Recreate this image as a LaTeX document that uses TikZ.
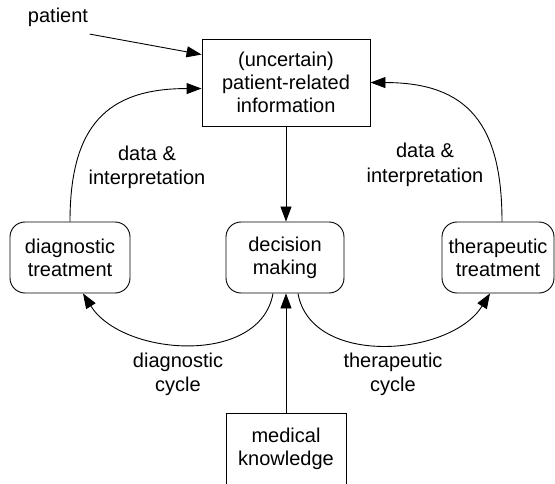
\documentclass[tikz,border=0pt]{standalone}
\usepackage{fontspec}
\setmainfont{Liberation Sans}
\usetikzlibrary{arrows.meta}

\begin{document}
\begin{tikzpicture}[
x=1pt,y=-1pt,line width=0.9pt,
every node/.style={font=\fontsize{20}{23}\selectfont,align=center},
box/.style={draw,minimum width=120pt,minimum height=72pt,inner sep=0pt},
rbox/.style={box,rounded corners=15pt,minimum height=71pt},
lbl/.style={font=\fontsize{20}{24.5}\selectfont},
-->/.style={-{Triangle[length=15pt,width=11pt]}},
]
\useasboundingbox (0,0) rectangle (555,484);

\node (pat) at (58,17) {patient};
\node[box,minimum width=168pt,minimum height=87pt] (info) at (286,82.5) {(uncertain)\\patient-related\\information};

\node[rbox] (diag) at (70,257.5) {diagnostic\\treatment};
\node[rbox,minimum width=118pt] (dec) at (285,257.5) {decision\\making};
\node[rbox,minimum width=112pt] (ther) at (498,257.5) {therapeutic\\treatment};

\node[box] (know) at (286,449) {medical\\knowledge};

\node[lbl] (di1) at (147,167.5) {data \&\\interpretation};
\node[lbl] (di2) at (425,165) {data \&\\interpretation};
\node[lbl] (dc) at (178,374.5) {diagnostic\\cycle};
\node[lbl] (tc) at (393,374.5) {therapeutic\\cycle};

\draw[-->] ([xshift=-2pt,yshift=-4pt]pat.south east) -- ([yshift=-16pt]info.north west);
\draw[-->] (diag.north) to[out=90,in=180,looseness=1.3] ([yshift=-50pt]info.north west);
\draw[-->] ([xshift=4pt]ther.north) to[out=90,in=0,looseness=1.3] ([yshift=-44pt]info.north east);
\draw[-->] (info.south) -- (info.south |- dec.north);
\draw[-->] (know.north) -- (know.north |- dec.south);

\draw[-->] ([xshift=-12pt]dec.south) to[out=-100,in=-58] ([xshift=13pt]diag.south);
\draw[-->] ([xshift=13pt]dec.south) to[out=-80,in=-122] ([xshift=-8pt]ther.south);
\end{tikzpicture}
\end{document}
